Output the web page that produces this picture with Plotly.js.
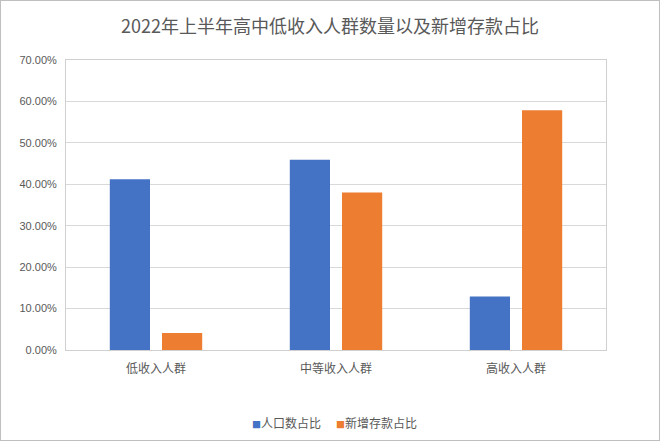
<!DOCTYPE html>
<html>
<head>
<meta charset="utf-8">
<script src="https://cdn.plot.ly/plotly-3.0.1.min.js"></script>
<style>
html,body{margin:0;padding:0;background:#fff;}
#wrap{width:660px;height:441px;box-sizing:border-box;border:1px solid #bfbfbf;}
#chart{width:658px;height:439px;}
</style>
</head>
<body>
<div id="wrap"><div id="chart"></div></div>
<script>
var categories = ['低收入人群', '中等收入人群', '高收入人群'];
var populationShare = [0.412, 0.459, 0.129];
var newDepositShare = [0.041, 0.380, 0.579];
var seriesNames = ['人口数占比', '新增存款占比'];
var seriesColors = ['#4472C4', '#ED7D31'];

var fontFam = 'Liberation Sans, Noto Sans CJK SC, sans-serif';
var cjk = 'Noto Sans CJK SC, Liberation Sans, sans-serif';

var data = [
  {type:'bar', name:seriesNames[0], x:categories, y:populationShare,
   marker:{color:seriesColors[0]}, hoverinfo:'none', showlegend:false},
  {type:'bar', name:seriesNames[1], x:categories, y:newDepositShare,
   marker:{color:seriesColors[1]}, hoverinfo:'none', showlegend:false}
];

// legend entries drawn as annotations, left edges in pixels of the page
var legendLeft = [250, 334];
var annotations = seriesNames.map(function(n, i){
  return {text:'<span style="color:' + seriesColors[i] + ';font-size:9px">■</span>' + n,
          xref:'paper', yref:'paper',
          x:(legendLeft[i]-66)/540, xanchor:'left', y:-(422-350)/290, yanchor:'middle',
          showarrow:false, font:{family:cjk, size:12, color:'#595959'}};
});

var layout = {
  width:658, height:439,
  margin:{l:65, r:53, t:59, b:90},
  paper_bgcolor:'#fff', plot_bgcolor:'#fff',
  title:{text:'2022年上半年高中低收入人群数量以及新增存款占比',
         font:{family:cjk, size:18, color:'#595959'},
         x:0.5, xanchor:'center', y:1-26/439, yanchor:'middle', yref:'container'},
  barmode:'group', bargap:0.42, bargroupgap:0.23,
  xaxis:{tickfont:{family:cjk, size:12, color:'#595959'},
         showline:true, linecolor:'#d0d0d0', linewidth:1, mirror:true,
         ticks:'outside', ticklen:8, tickcolor:'rgba(0,0,0,0)', fixedrange:true},
  yaxis:{range:[0,0.7], dtick:0.1, tickformat:'.2%',
         tickfont:{family:fontFam, size:11, color:'#595959'},
         gridcolor:'#d9d9d9', gridwidth:1,
         showline:true, linecolor:'#d0d0d0', linewidth:1, mirror:true,
         zeroline:false, ticks:'outside', ticklen:6, tickcolor:'rgba(0,0,0,0)', fixedrange:true},
  showlegend:false,
  annotations:annotations
};

Plotly.newPlot('chart', data, layout, {displayModeBar:false, staticPlot:true});
</script>
</body>
</html>
